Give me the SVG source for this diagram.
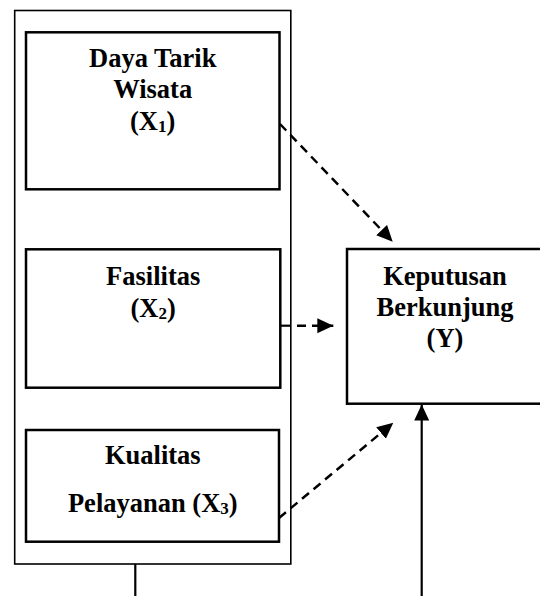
<svg xmlns="http://www.w3.org/2000/svg" width="540" height="596" viewBox="0 0 540 596">
<style>
.box{fill:#fff;stroke:#000;stroke-width:2.5}
.outer{fill:#fff;stroke:#000;stroke-width:1.6}
.t{font-family:"Liberation Serif","Times New Roman",serif;font-weight:bold;font-size:26.5px;fill:#000;text-anchor:middle}
.sub{font-size:17px}
.dash{stroke:#000;stroke-width:2.5;stroke-dasharray:9 6;fill:none}
.solid{stroke:#000;stroke-width:2.2;fill:none}
</style>
<defs>
<marker id="ah" markerUnits="userSpaceOnUse" markerWidth="18" markerHeight="16" refX="16" refY="7.5" orient="auto">
<path d="M0,0 L16,7.5 L0,15 Z" fill="#000"/>
</marker>
</defs>
<rect id="outer" class="outer" x="14.7" y="10.5" width="276.1" height="553.5"/>
<g id="x1">
<rect class="box" x="26" y="32.3" width="253.5" height="157"/>
<text class="t" x="152.7" y="67">Daya Tarik</text>
<text class="t" x="152.7" y="98">Wisata</text>
<text class="t" x="152.7" y="130">(X<tspan class="sub" dy="2">1</tspan><tspan dy="-2">)</tspan></text>
</g>
<g id="x2">
<rect class="box" x="26" y="249.3" width="254.3" height="138.4"/>
<text class="t" x="153.2" y="285">Fasilitas</text>
<text class="t" x="153.2" y="317">(X<tspan class="sub" dy="2">2</tspan><tspan dy="-2">)</tspan></text>
</g>
<g id="x3">
<rect class="box" x="26" y="430" width="253" height="111.7"/>
<text class="t" x="152.8" y="464">Kualitas</text>
<text class="t" x="152.8" y="512">Pelayanan (X<tspan class="sub" dy="2">3</tspan><tspan dy="-2">)</tspan></text>
</g>
<g id="y">
<rect class="box" x="347" y="249" width="200" height="154.7"/>
<text class="t" x="445" y="285">Keputusan</text>
<text class="t" x="445" y="316">Berkunjung</text>
<text class="t" x="445" y="347">(Y)</text>
</g>
<g id="connectors">
<line class="dash" x1="280" y1="124" x2="392.7" y2="241.7" marker-end="url(#ah)"/>
<line class="solid" x1="280.3" y1="325.7" x2="291" y2="325.7"/>
<line class="dash" x1="297" y1="325.7" x2="333.3" y2="325.7" marker-end="url(#ah)"/>
<line class="dash" x1="279" y1="518" x2="393.3" y2="422.7" marker-end="url(#ah)"/>
<line class="solid" x1="135.3" y1="564" x2="135.3" y2="596"/>
<line class="solid" x1="421.7" y1="596" x2="421.7" y2="404.5" marker-end="url(#ah)"/>
</g>
</svg>
